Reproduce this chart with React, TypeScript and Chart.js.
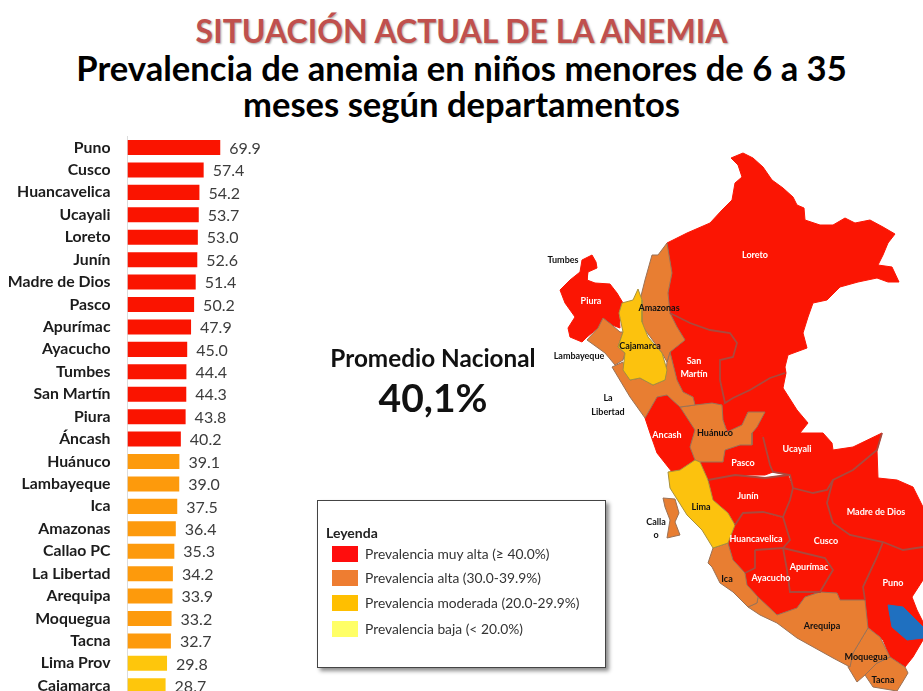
import React, { useEffect, useRef } from "react";
import { Chart, registerables } from "chart.js";

Chart.register(...registerables);

const departments = ["Puno","Cusco","Huancavelica","Ucayali","Loreto","Junín","Madre de Dios","Pasco","Apurímac","Ayacucho","Tumbes","San Martín","Piura","Áncash","Huánuco","Lambayeque","Ica","Amazonas","Callao PC","La Libertad","Arequipa","Moquegua","Tacna","Lima Prov","Cajamarca"];
const prevalence = [69.9,57.4,54.2,53.7,53.0,52.6,51.4,50.2,47.9,45.0,44.4,44.3,43.8,40.2,39.1,39.0,37.5,36.4,35.3,34.2,33.9,33.2,32.7,29.8,28.7];

const RED = "#fa1400", ORANGE = "#fd9a0c", AMBER = "#fec60c";
const MAP_RED = "#fb1503", MAP_ORANGE = "#e87e32", MAP_YELLOW = "#fcc20e", LAKE = "#1f70c0";

const legendItems = [
  ["Prevalencia muy alta (≥ 40.0%)", "#ff0d0d"],
  ["Prevalencia alta (30.0-39.9%)", "#ee7d31"],
  ["Prevalencia moderada (20.0-29.9%)", "#ffbf00"],
  ["Prevalencia baja (< 20.0%)", "#ffff66"],
];

type P = [number, number];
const loreto: P[] = [[667,243],[687,233],[710,223],[722,210],[732,200],[735,183],[742,177],[738,165],[731,158],[743,153],[753,158],[763,167],[772,180],[783,188],[793,197],[797,205],[804,208],[805,220],[820,225],[833,225],[845,218],[855,223],[870,220],[883,227],[895,234],[888,243],[883,255],[878,265],[892,267],[899,282],[888,282],[877,278],[858,282],[840,287],[827,300],[813,303],[808,317],[803,333],[807,348],[788,355],[785,367],[786,373],[770,378],[750,390],[733,398],[725,403],[720,380],[720,360],[733,357],[737,343],[730,333],[710,330],[690,323],[670,313],[668,293],[672,273]];
const amazonas: P[] = [[667,243],[672,273],[668,293],[670,313],[677,327],[685,340],[670,352],[667,362],[662,353],[643,327],[640,300],[645,280],[652,255],[658,255]];
const sanMartin: P[] = [[670,313],[690,323],[710,330],[730,333],[737,343],[733,357],[720,360],[720,380],[725,403],[722,405],[712,403],[695,405],[693,397],[683,392],[677,380],[670,352],[685,340],[677,327]];
const cajamarca: P[] = [[638,289],[642,300],[642,322],[648,337],[662,353],[667,370],[665,380],[653,385],[640,378],[630,380],[623,370],[625,353],[618,347],[623,332],[619,313],[622,303],[633,300]];
const piura: P[] = [[592,255],[596,262],[597,268],[588,272],[587,280],[595,283],[610,284],[617,293],[623,303],[619,313],[620,328],[612,325],[603,318],[598,328],[587,337],[582,342],[570,337],[568,328],[575,317],[565,303],[560,290],[570,280],[580,272],[582,260]];
const lambayeque: P[] = [[603,318],[612,325],[620,332],[623,332],[618,347],[625,353],[623,360],[615,365],[605,353],[587,340],[598,328]];
const laLibertad: P[] = [[612,367],[623,362],[625,372],[630,380],[640,378],[653,385],[665,380],[667,362],[670,352],[677,380],[683,392],[693,397],[695,405],[680,407],[667,395],[657,397],[645,418],[630,397]];
const ancash: P[] = [[645,418],[657,397],[667,395],[680,407],[682,407],[695,430],[690,447],[695,460],[680,470],[672,472],[657,453],[650,433]];
const huanuco: P[] = [[680,407],[695,405],[712,403],[722,405],[723,420],[727,432],[742,425],[748,412],[765,412],[757,427],[752,433],[752,445],[740,445],[725,450],[723,462],[700,462],[695,460],[690,447],[695,430]];
const pasco: P[] = [[725,450],[740,445],[752,445],[752,433],[757,427],[763,437],[770,465],[773,472],[765,475],[735,475],[708,480],[700,462],[723,462]];
const ucayali: P[] = [[725,403],[733,398],[750,390],[770,378],[786,373],[783,388],[797,410],[808,423],[800,433],[823,433],[832,443],[833,450],[853,447],[882,433],[877,450],[853,470],[833,480],[827,490],[813,493],[793,488],[790,475],[773,472],[770,465],[763,437],[757,427],[765,412],[748,412],[742,425],[728,432],[723,420],[722,405]];
const madreDeDios: P[] = [[877,450],[878,478],[897,480],[913,487],[923,507],[923,547],[903,550],[883,542],[850,535],[833,523],[827,503],[833,480],[853,470]];
const puno: P[] = [[883,542],[903,550],[923,547],[923,580],[912,597],[917,610],[923,622],[923,640],[913,657],[905,667],[890,657],[883,640],[868,627],[865,600],[863,587],[877,557]];
const lake: P[] = [[888,605],[903,607],[923,627],[923,638],[907,640],[892,627]];
const cusco: P[] = [[793,488],[813,493],[827,490],[833,480],[827,503],[833,523],[850,535],[883,542],[877,557],[863,587],[865,600],[840,600],[837,593],[820,592],[833,570],[825,558],[783,548],[790,540],[783,517],[790,500]];
const apurimac: P[] = [[783,548],[825,558],[833,570],[820,592],[805,590],[790,592],[787,570],[783,553]];
const ayacucho: P[] = [[755,550],[783,548],[787,570],[790,592],[805,590],[820,592],[805,597],[797,608],[777,615],[758,597],[747,585],[745,573],[755,568]];
const huancavelica: P[] = [[735,525],[743,513],[763,512],[783,518],[790,540],[783,548],[755,550],[755,568],[745,573],[733,560],[728,543]];
const junin: P[] = [[708,480],[735,475],[765,478],[788,475],[793,488],[790,500],[783,517],[763,512],[743,513],[735,525],[728,513],[713,500]];
const lima: P[] = [[668,472],[680,470],[695,460],[700,462],[708,480],[713,500],[728,513],[735,525],[728,543],[713,548],[702,530],[687,515],[670,488]];
const ica: P[] = [[713,548],[728,543],[733,560],[745,573],[747,585],[758,597],[757,603],[748,607],[733,592],[720,583],[712,567],[708,563]];
const arequipa: P[] = [[748,607],[757,603],[758,597],[777,615],[797,608],[805,597],[820,592],[837,593],[840,600],[865,600],[868,628],[853,653],[850,667],[833,658],[797,638],[777,623],[760,615]];
const moquegua: P[] = [[868,628],[880,637],[890,657],[877,663],[865,675],[857,682],[848,667],[853,653]];
const tacna: P[] = [[890,657],[905,667],[908,673],[902,683],[897,691],[873,687],[865,675],[877,663]];
const callao: P[] = [[663,498],[675,499],[679,513],[675,522],[680,535],[667,538],[670,520],[665,507]];

const redRegions = [loreto, sanMartin, piura, ancash, pasco, ucayali, madreDeDios, puno, cusco, apurimac, ayacucho, huancavelica, junin];
const orangeRegions = [amazonas, lambayeque, laLibertad, huanuco, ica, arequipa, moquegua, tacna, callao];
const yellowRegions = [cajamarca, lima];

const innerBorders: P[][] = [
  [[670,313],[690,323],[710,330],[730,333],[737,343],[733,357],[720,360],[720,380],[725,403],[733,398],[750,390],[770,378],[785,373]],
  [[763,437],[770,465],[773,472],[790,475],[793,488],[813,493],[827,490],[833,480],[853,470],[877,450],[882,433]],
  [[833,480],[827,503],[833,523],[850,535],[883,542],[903,550],[923,547]],
  [[883,542],[877,557],[863,587],[865,600]],
  [[708,480],[735,475],[765,478],[788,475]],
  [[793,488],[790,500],[783,517],[790,540],[783,548]],
  [[735,525],[743,513],[763,512],[783,517]],
  [[755,550],[783,548],[825,558],[833,570],[820,592],[790,592],[787,570],[783,548]],
  [[755,550],[755,568],[745,573]],
];

const WHITE = "#ffffff", INK = "#111111";
const mapLabels: [string, number, number, string][] = [
  ["Loreto",755,255,WHITE],["Tumbes",563,260,INK],["Piura",591,301,WHITE],["Amazonas",659,308,INK],
  ["Cajamarca",640,346,INK],["Lambayeque",579,356,INK],["San",694,361,WHITE],["Martín",694,374,WHITE],
  ["La",608,398,INK],["Libertad",608,412,INK],["Ancash",667,435,WHITE],["Huánuco",715,433,INK],
  ["Ucayali",797,449,WHITE],["Pasco",743,463,WHITE],["Junín",748,496,WHITE],["Lima",701,507,INK],
  ["Calla",656,522,INK],["o",656,535,INK],["Madre de Dios",876,512,WHITE],["Huancavelica",756,539,WHITE],
  ["Cusco",826,541,WHITE],["Apurímac",809,567,WHITE],["Ayacucho",771,578,WHITE],["Ica",727,579,INK],
  ["Puno",893,583,WHITE],["Arequipa",822,626,INK],["Moquegua",866,657,INK],["Tacna",883,680,INK],
];

const toPoints = (poly: P[], close = true) => {
  const pts = poly.map(([x, y]) => ({ x, y }));
  return close ? [...pts, pts[0]] : pts;
};

const FONT = "Lato, 'Open Sans', sans-serif";

const barColor = (v: number) => (v >= 40 ? RED : v >= 30 ? ORANGE : AMBER);

const text = (style: React.CSSProperties, s: string, key?: string) => (
  <div key={key} style={{ position: "absolute", whiteSpace: "nowrap", ...style }}>{s}</div>
);

export default function App() {
  const barRef = useRef<HTMLCanvasElement>(null);
  const mapRef = useRef<HTMLCanvasElement>(null);

  useEffect(() => {
    document.body.style.margin = "0";
    const valueLabels = {
      id: "valueLabels",
      afterDatasetsDraw(chart: any) {
        const ctx = chart.ctx;
        const meta = chart.getDatasetMeta(0);
        ctx.save();
        ctx.font = `16px ${FONT}`;
        ctx.fillStyle = "#3c3c3c";
        ctx.textBaseline = "middle";
        meta.data.forEach((el: any, i: number) => {
          ctx.fillText(prevalence[i].toFixed(1), el.x + 9, el.y + 1);
        });
        ctx.restore();
      },
    };
    const bar = new Chart(barRef.current!, {
      type: "bar",
      data: {
        labels: departments,
        datasets: [{
          data: prevalence,
          backgroundColor: prevalence.map(barColor),
          barPercentage: 0.67,
          categoryPercentage: 1,
        }],
      },
      options: {
        indexAxis: "y",
        animation: false,
        responsive: false,
        layout: { padding: { top: 136.3, bottom: 0, left: 0, right: 0 } },
        plugins: { legend: { display: false }, tooltip: { enabled: false } },
        scales: {
          x: { display: false, min: 0, max: 130 },
          y: {
            afterFit: (s: any) => { s.width = 127.5; s.paddingTop = 0; s.paddingBottom = 0; },
            grid: { display: false, drawTicks: false },
            border: { display: true, color: "#dcdcdc", width: 1 },
            ticks: { autoSkip: false, padding: 17, color: "#1c1c1c", font: { family: FONT, size: 15.8, weight: "bold" } },
          },
        },
      },
      plugins: [valueLabels],
    } as any);

    const mapText = {
      id: "mapText",
      afterDatasetsDraw(chart: any) {
        const ctx = chart.ctx;
        ctx.save();
        ctx.font = `bold 9px ${FONT}`;
        ctx.textAlign = "center";
        ctx.textBaseline = "middle";
        mapLabels.forEach(([s, x, y, c]) => {
          ctx.fillStyle = c;
          ctx.fillText(s, chart.scales.x.getPixelForValue(x), chart.scales.y.getPixelForValue(y));
        });
        ctx.restore();
      },
    };
    const region = (poly: P[], fill: string, stroke: string, width: number) => ({
      data: toPoints(poly), showLine: true, fill: "shape", backgroundColor: fill,
      borderColor: stroke, borderWidth: width, pointRadius: 0, tension: 0,
    });
    // Datasets are painted last-to-first, so the list runs from top layer to bottom layer.
    const map = new Chart(mapRef.current!, {
      type: "scatter",
      data: {
        datasets: [
          ...innerBorders.map((b) => ({
            data: toPoints(b, false), showLine: true, fill: false, borderColor: "#a94a3e",
            borderWidth: 1.8, pointRadius: 0, tension: 0,
          })),
          region(lake, LAKE, LAKE, 1),
          ...yellowRegions.map((r) => region(r, MAP_YELLOW, "#a8903c", 1)),
          ...orangeRegions.map((r) => region(r, MAP_ORANGE, "#9a7155", 1)),
          ...redRegions.map((r) => region(r, MAP_RED, MAP_RED, 1)),
        ],
      },
      options: {
        animation: false,
        responsive: false,
        layout: { padding: 0 },
        plugins: { legend: { display: false }, tooltip: { enabled: false } },
        scales: {
          x: { type: "linear", display: false, min: 530, max: 923 },
          y: { type: "linear", display: false, min: 140, max: 691, reverse: true },
        },
      },
      plugins: [mapText],
    } as any);

    return () => { bar.destroy(); map.destroy(); };
  }, []);

  const legendY = [546, 570, 595, 621];
  return (
    <div style={{ position: "relative", width: 923, height: 691, overflow: "hidden", background: "#fff", fontFamily: FONT, filter: "blur(0.6px)" }}>
      {text({ left: 0, width: 923, textAlign: "center", top: 11, fontSize: 32, lineHeight: "40px", fontWeight: 700, color: "#c0504d", textShadow: "1px 1px 2px rgba(0,0,0,.35)" }, "SITUACIÓN ACTUAL DE LA ANEMIA")}
      {text({ left: 0, width: 923, textAlign: "center", top: 48, fontSize: 34.6, lineHeight: "40px", fontWeight: 700, color: "#000" }, "Prevalencia de anemia en niños menores de 6 a 35")}
      {text({ left: 0, width: 923, textAlign: "center", top: 84, fontSize: 34.6, lineHeight: "40px", fontWeight: 700, color: "#000" }, "meses según departamentos")}
      <canvas ref={barRef} width={300} height={697} style={{ position: "absolute", left: 0, top: 0, display: "block" }} />
      <canvas ref={mapRef} width={393} height={551} style={{ position: "absolute", left: 530, top: 140, display: "block" }} />
      {text({ left: 283, width: 300, textAlign: "center", top: 343, fontSize: 24.3, lineHeight: "30px", fontWeight: 700, color: "#111" }, "Promedio Nacional")}
      {text({ left: 283, width: 300, textAlign: "center", top: 375, fontSize: 39, lineHeight: "44px", fontWeight: 700, color: "#111" }, "40,1%")}
      <div style={{ position: "absolute", left: 317, top: 500, width: 287, height: 166, background: "#fff", border: "1px solid #444", boxShadow: "3px 3px 4px rgba(0,0,0,.45)" }} />
      {text({ left: 326, top: 524, fontSize: 14, lineHeight: "18px", fontWeight: 700, color: "#222" }, "Leyenda")}
      {legendItems.map(([label, c], i) => (
        <React.Fragment key={label}>
          <div style={{ position: "absolute", left: 332, top: legendY[i], width: 26, height: 16, background: c }} />
          {text({ left: 365, top: legendY[i] - 1, fontSize: 13.8, lineHeight: "18px", color: "#333" }, label)}
        </React.Fragment>
      ))}
    </div>
  );
}
